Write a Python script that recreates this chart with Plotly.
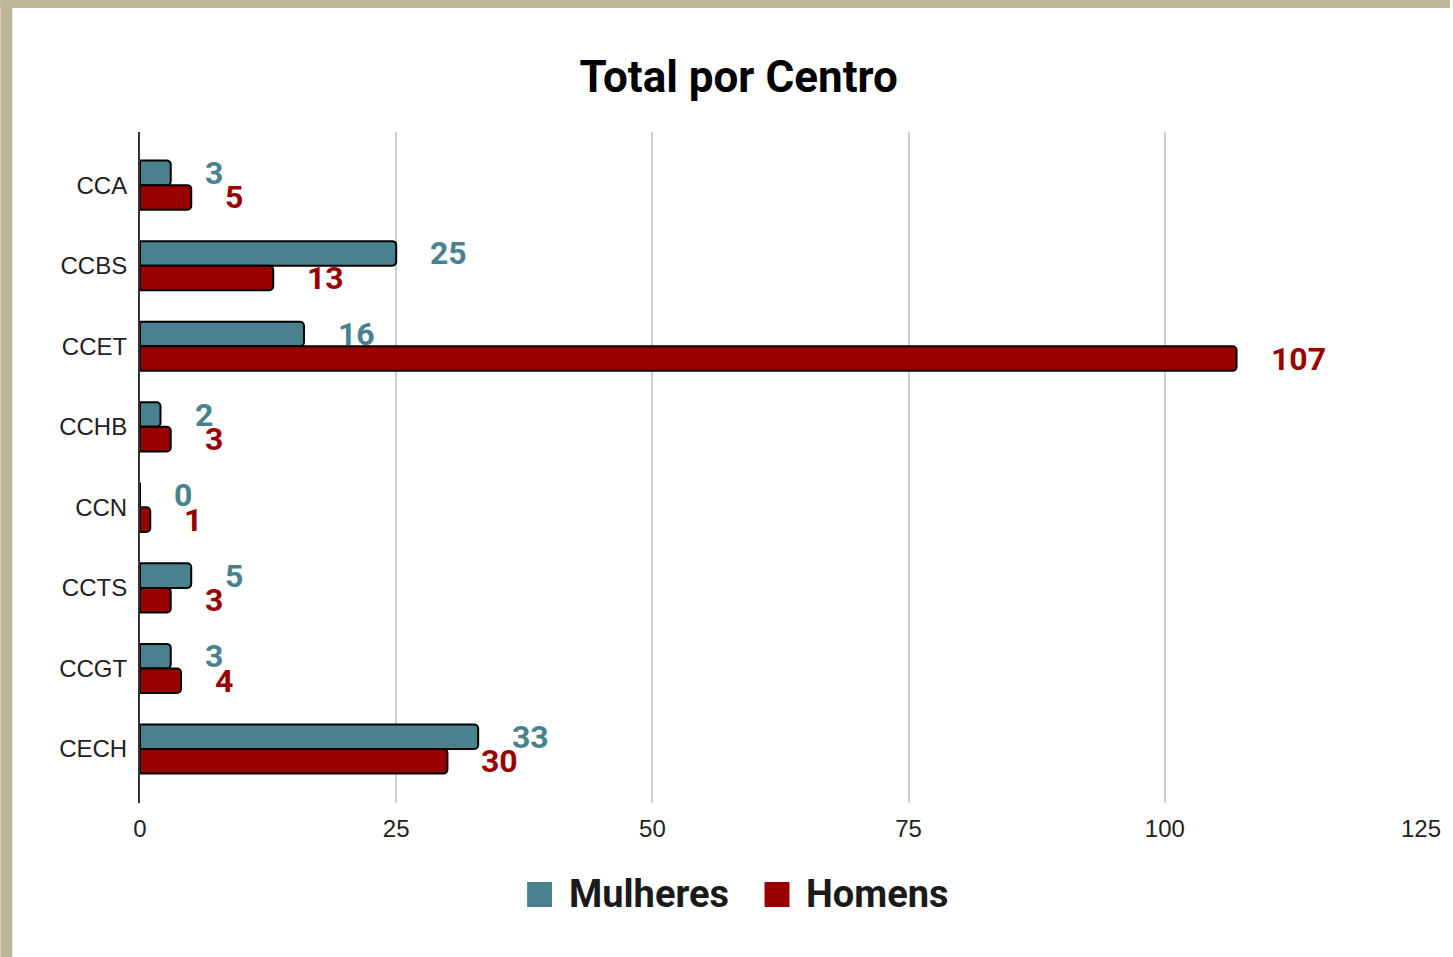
import plotly.graph_objects as go

# data
centros = ["CCA", "CCBS", "CCET", "CCHB", "CCN", "CCTS", "CCGT", "CECH"]
mulheres = [3, 25, 16, 2, 0, 5, 3, 33]
homens = [5, 13, 107, 3, 1, 3, 4, 30]
x_ticks = [0, 25, 50, 75, 100, 125]

TEAL = "#4a818f"
RED = "#990000"
BEIGE = "#bfb598"

W, H = 1453, 957
L, R, T, B = 140, 29, 132, 154
PW, PH = W - L - R, H - T - B


def px_x(px):
    return (px - L) / PW


def px_y(py):
    return (H - B - py) / PH


bargap = 0.39
bar_w = (1 - bargap) / 2

fig = go.Figure()
fig.add_trace(go.Bar(
    y=centros, x=mulheres, orientation="h", name="Mulheres",
    marker=dict(color=TEAL, line=dict(color="black", width=2), cornerradius=4),
    showlegend=False,
))
fig.add_trace(go.Bar(
    y=centros, x=homens, orientation="h", name="Homens",
    marker=dict(color=RED, line=dict(color="black", width=2), cornerradius=4),
    showlegend=False,
))

# value labels, pushed out past the bar ends
annotations = []
for i, (m, h) in enumerate(zip(mulheres, homens)):
    for val, off, col in [(m, -bar_w / 2, TEAL), (h, bar_w / 2, RED)]:
        annotations.append(dict(
            x=val, y=i + off, xref="x", yref="y", text=str(val),
            showarrow=False, xanchor="left", yanchor="middle", xshift=32,
            font=dict(family="Roboto", size=32, color=col, weight="bold"),
        ))

# legend drawn by hand (bigger squares than plotly's)
legend_items = [("Mulheres", TEAL, 528), ("Homens", RED, 766)]
shapes = []
for name, col, sx in legend_items:
    shapes.append(dict(
        type="rect", xref="paper", yref="paper",
        x0=px_x(sx), x1=px_x(sx + 25), y0=px_y(907), y1=px_y(882),
        fillcolor=col, line=dict(width=0),
    ))
    annotations.append(dict(
        x=px_x(sx + 40), y=px_y(894), xref="paper", yref="paper",
        text=name, showarrow=False, xanchor="left", yanchor="middle",
        font=dict(family="Roboto", size=38, color="#1a1a1a", weight="bold"),
    ))

# beige frame on top and left edges
shapes.append(dict(type="rect", xref="paper", yref="paper",
                   x0=px_x(0), x1=px_x(W), y0=px_y(8), y1=px_y(0),
                   fillcolor=BEIGE, line=dict(width=0), layer="below"))
shapes.append(dict(type="rect", xref="paper", yref="paper",
                   x0=px_x(0), x1=px_x(12), y0=px_y(H), y1=px_y(0),
                   fillcolor=BEIGE, line=dict(width=0), layer="below"))

fig.update_layout(
    width=W, height=H,
    margin=dict(l=L, r=R, t=T, b=B),
    paper_bgcolor="white", plot_bgcolor="white",
    barmode="group", bargap=bargap, bargroupgap=0,
    title=dict(
        text="Total por Centro", x=px_x(740), xref="paper", xanchor="center",
        y=1 - 77 / H, yref="container", yanchor="middle",
        font=dict(family="Roboto", size=44, color="black", weight="bold"),
    ),
    annotations=annotations,
    shapes=shapes,
    showlegend=False,
)
fig.update_xaxes(
    range=[0, 125], tickvals=x_ticks, showgrid=True, gridcolor="#cfcfcf",
    gridwidth=1.5, zeroline=False, showline=False, ticks="",
    ticklabelstandoff=9,
    tickfont=dict(family="Liberation Sans, Arial", size=24, color="#222"),
)
fig.update_yaxes(
    type="category", range=[len(centros) - 1 + 0.67, -0.66],
    showgrid=False, zeroline=False, showline=True, linecolor="#333",
    linewidth=2, ticks="", ticklabelstandoff=6,
    tickfont=dict(family="Liberation Sans, Arial", size=24, color="#222"),
)

# drop the page's default body margin so the figure sits at the corner
fig.write_html(
    "out.html",
    config={"displayModeBar": False},
    post_script="document.body.style.margin='0';",
)
